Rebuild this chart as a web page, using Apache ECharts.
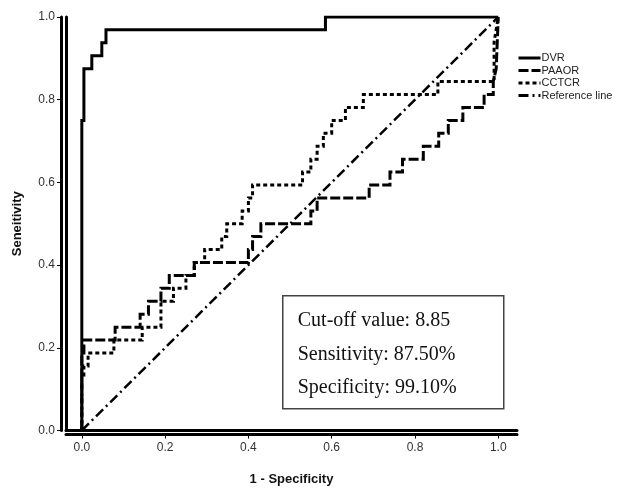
<!DOCTYPE html>
<html>
<head>
<meta charset="utf-8">
<title>ROC curves</title>
<script src="https://cdn.jsdelivr.net/npm/echarts@6/dist/echarts.min.js"></script>
<style>
  html, body { margin: 0; padding: 0; background: #fff; }
  #roc { width: 621px; height: 488px; }
</style>
</head>
<body>
<div id="roc"></div>
<script>
  // ROC data (1 - specificity, sensitivity)
  const dvrFpr = [0, 0, 0.005, 0.005, 0.024, 0.024, 0.048, 0.048, 0.058, 0.058, 0.585, 0.585, 1]
  const dvrTpr = [0, 0.75, 0.75, 0.875, 0.875, 0.906, 0.906, 0.938, 0.938, 0.969, 0.969, 1, 1]

  const paaorFpr = [0, 0, 0.005, 0.005, 0.08, 0.08, 0.14, 0.14, 0.16, 0.16, 0.19, 0.19, 0.21, 0.21, 0.27, 0.27,
    0.40, 0.40, 0.41, 0.41, 0.43, 0.43, 0.55, 0.55, 0.565, 0.565, 0.69, 0.69, 0.74, 0.74, 0.77, 0.77,
    0.82, 0.82, 0.857, 0.857, 0.88, 0.88, 0.915, 0.915, 0.966, 0.966, 0.988, 0.988, 0.995, 1]
  const paaorTpr = [0, 0.1875, 0.1875, 0.219, 0.219, 0.25, 0.25, 0.281, 0.281, 0.3125, 0.3125, 0.344, 0.344, 0.375, 0.375, 0.406,
    0.406, 0.438, 0.438, 0.469, 0.469, 0.5, 0.5, 0.531, 0.531, 0.5625, 0.5625, 0.594, 0.594, 0.625, 0.625, 0.656,
    0.656, 0.6875, 0.6875, 0.719, 0.719, 0.75, 0.75, 0.781, 0.781, 0.8125, 0.8125, 0.844, 0.875, 1]

  const cctcrFpr = [0, 0, 0.005, 0.005, 0.015, 0.015, 0.077, 0.077, 0.145, 0.145, 0.19, 0.19, 0.22, 0.22, 0.25, 0.25,
    0.27, 0.27, 0.295, 0.295, 0.336, 0.336, 0.348, 0.348, 0.385, 0.385, 0.40, 0.40, 0.41, 0.41, 0.53, 0.53,
    0.55, 0.55, 0.565, 0.565, 0.58, 0.58, 0.60, 0.60, 0.633, 0.633, 0.676, 0.676, 0.855, 0.855, 0.99, 0.99, 1]
  const cctcrTpr = [0, 0.125, 0.125, 0.156, 0.156, 0.1875, 0.1875, 0.219, 0.219, 0.25, 0.25, 0.3125, 0.3125, 0.344, 0.344, 0.375,
    0.375, 0.406, 0.406, 0.438, 0.438, 0.469, 0.469, 0.5, 0.5, 0.531, 0.531, 0.5625, 0.5625, 0.594, 0.594, 0.625,
    0.625, 0.656, 0.656, 0.6875, 0.6875, 0.719, 0.719, 0.75, 0.75, 0.781, 0.781, 0.8125, 0.8125, 0.844, 0.844, 0.94, 1]

  const refFpr = [0, 1]
  const refTpr = [0, 1]

  const tickValues = [0, 0.2, 0.4, 0.6, 0.8, 1.0]
  const seriesNames = ['DVR', 'PAAOR', 'CCTCR', 'Reference line']
  const boxLines = ['Cut-off value: 8.85', 'Sensitivity: 87.50%', 'Specificity: 99.10%']

  function pairs(xs, ys) {
    return xs.map((x, i) => [x, ys[i]])
  }

  const chart = echarts.init(document.getElementById('roc'))

  const lineSeries = function (name, data, dash, width) {
    return {
      name: name,
      type: 'line',
      data: data,
      symbol: 'none',
      silent: true,
      xAxisIndex: 0,
      yAxisIndex: 0,
      lineStyle: {color: '#000', width: width, type: dash, cap: 'butt', join: 'miter'},
      itemStyle: {color: '#000'}
    }
  }

  const labelFont = {fontFamily: 'Liberation Sans, Arial, sans-serif', fontSize: 12, color: '#333'}
  const xRange = {min: -0.038, max: 1.045}
  const yRange = {min: 0, max: 1}

  const option = {
    animation: false,
    backgroundColor: '#fff',
    grid: {left: 66, right: 104, top: 17, bottom: 57.5, containLabel: false, outerBoundsMode: 'none'},
    legend: {
      data: seriesNames,
      icon: 'inherit',
      orient: 'vertical',
      left: 512,
      top: 47,
      itemWidth: 22,
      itemHeight: 12,
      itemGap: 0.5,
      itemStyle: {opacity: 0},
      lineStyle: {width: 3},
      textStyle: {fontFamily: 'Liberation Sans, Arial, sans-serif', fontSize: 11, color: '#222', lineHeight: 12, padding: [0, 0, 0, -4]}
    },
    xAxis: [
      Object.assign({
        type: 'value',
        position: 'bottom',
        axisLine: {show: true, onZero: false, lineStyle: {color: '#000', width: 3}},
        axisTick: {show: false},
        axisLabel: {show: false},
        splitLine: {show: false}
      }, xRange),
      Object.assign({
        type: 'value',
        position: 'bottom',
        offset: 4,
        name: '1 - Specificity',
        nameLocation: 'middle',
        nameGap: 38,
        nameTextStyle: {fontFamily: 'Liberation Sans, Arial, sans-serif', fontSize: 13, fontWeight: 'bold', color: '#111'},
        axisLine: {show: true, onZero: false, lineStyle: {color: '#000', width: 3}},
        axisTick: {show: true, length: 4, customValues: tickValues, lineStyle: {color: '#000', width: 1}},
        axisLabel: Object.assign({show: true, margin: 7, customValues: tickValues, formatter: v => v.toFixed(1)}, labelFont),
        splitLine: {show: false}
      }, xRange)
    ],
    yAxis: [
      Object.assign({
        type: 'value',
        position: 'left',
        axisLine: {show: true, onZero: false, lineStyle: {color: '#000', width: 3}},
        axisTick: {show: false},
        axisLabel: {show: false},
        splitLine: {show: false}
      }, yRange),
      Object.assign({
        type: 'value',
        position: 'left',
        offset: 5,
        interval: 0.2,
        name: 'Seneitivity',
        nameLocation: 'middle',
        nameGap: 37,
        nameTextStyle: {fontFamily: 'Liberation Sans, Arial, sans-serif', fontSize: 13, fontWeight: 'bold', color: '#111'},
        axisLine: {show: true, onZero: false, lineStyle: {color: '#000', width: 3}},
        axisTick: {show: true, length: 4, lineStyle: {color: '#000', width: 1}},
        axisLabel: Object.assign({show: true, margin: 6, formatter: v => v.toFixed(1)}, labelFont),
        splitLine: {show: false}
      }, yRange)
    ],
    graphic: [{
      type: 'group',
      left: 282,
      top: 295,
      children: [
        {type: 'rect', shape: {x: 0, y: 0, width: 221, height: 113}, style: {fill: '#fff', stroke: '#444', lineWidth: 1.5}},
        ...boxLines.map((t, i) => ({
          type: 'text',
          x: 15,
          y: 25 + i * 33.5,
          style: {text: t, font: '20px "Liberation Serif", "Times New Roman", serif', fill: '#111', verticalAlign: 'middle'}
        }))
      ]
    }],
    series: [
      lineSeries('DVR', pairs(dvrFpr, dvrTpr), 'solid', 3),
      lineSeries('PAAOR', pairs(paaorFpr, paaorTpr), [10, 3], 3),
      lineSeries('CCTCR', pairs(cctcrFpr, cctcrTpr), [4, 3], 3),
      lineSeries('Reference line', pairs(refFpr, refTpr), [10, 4, 2, 4], 2.5)
    ]
  }
  chart.setOption(option)
</script>
</body>
</html>
